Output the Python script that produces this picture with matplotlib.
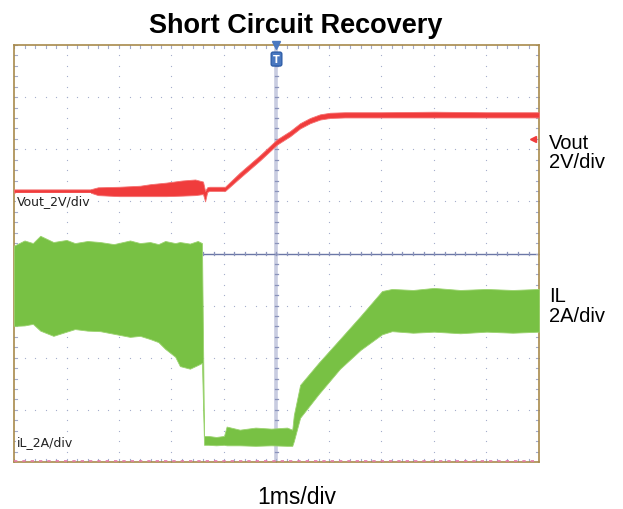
import matplotlib.pyplot as plt
import numpy as np

# scope screen in divisions: 10 div wide (1 ms/div), 8 div tall
vout_x = [0, 1.45, 1.6, 2.0, 2.4, 2.6, 2.9, 3.2, 3.45, 3.6, 3.64, 3.68, 3.72, 4.02,
          4.3, 4.69, 5.01, 5.26, 5.45, 5.64, 5.83, 6.02, 6.3, 7.0, 8.0, 9.0, 10]
vout_hi = [5.23, 5.23, 5.27, 5.28, 5.30, 5.33, 5.36, 5.40, 5.42, 5.38, 5.20, 5.27, 5.28, 5.28,
           5.55, 5.89, 6.19, 6.35, 6.50, 6.60, 6.67, 6.70, 6.71, 6.71, 6.72, 6.71, 6.71]
vout_lo = [5.17, 5.17, 5.12, 5.10, 5.10, 5.10, 5.10, 5.11, 5.12, 5.14, 5.00, 5.18, 5.20, 5.20,
           5.45, 5.79, 6.09, 6.25, 6.40, 6.50, 6.57, 6.60, 6.61, 6.61, 6.61, 6.61, 6.61]

il_x = [0, 0.2, 0.36, 0.5, 0.75, 1.0, 1.16, 1.4, 1.64, 1.9, 2.21, 2.4, 2.59, 2.75, 2.88,
        3.07, 3.16, 3.35, 3.5, 3.58, 3.62, 3.7, 3.85, 4.0, 4.05, 4.3, 4.6, 4.9, 5.2, 5.3,
        5.33, 5.45, 5.8, 6.21, 6.6, 7.01, 7.2, 7.6, 8.0, 8.5, 9.0, 9.5, 10]
il_hi = [4.15, 4.25, 4.20, 4.34, 4.22, 4.26, 4.20, 4.24, 4.22, 4.18, 4.25, 4.20, 4.22, 4.18, 4.24,
         4.20, 4.22, 4.19, 4.24, 4.20, 0.50, 0.50, 0.48, 0.50, 0.68, 0.62, 0.66, 0.64, 0.66, 0.62,
         0.90, 1.48, 1.90, 2.36, 2.80, 3.28, 3.32, 3.30, 3.34, 3.30, 3.32, 3.30, 3.32]
il_lo = [2.61, 2.62, 2.65, 2.52, 2.42, 2.50, 2.55, 2.52, 2.51, 2.46, 2.40, 2.42, 2.36, 2.30, 2.17,
         2.02, 1.84, 1.79, 1.86, 1.90, 0.33, 0.33, 0.32, 0.33, 0.32, 0.32, 0.31, 0.32, 0.31, 0.31,
         0.40, 0.85, 1.30, 1.79, 2.15, 2.45, 2.51, 2.48, 2.50, 2.47, 2.50, 2.48, 2.50]

n_xdiv = 10
n_ydiv = 8

fig = plt.figure(figsize=(6.23, 5.10), dpi=100)
ax = fig.add_axes([14 / 623, 47 / 510, 525 / 623, 417 / 510])
ax.set_xlim(0, n_xdiv)
ax.set_ylim(0, n_ydiv)
ax.set_xticks([])
ax.set_yticks([])
for s in ax.spines.values():
    s.set_color('#a88a4c')
    s.set_linewidth(1.2)

# dotted graticule
grid_c = '#a3abcb'
sub = np.arange(0, n_xdiv + 0.01, 0.2)
subv = np.arange(0, n_ydiv + 0.01, 0.2)
for gx in range(1, n_xdiv):
    ax.scatter(np.full_like(subv, gx), subv, s=0.8, color=grid_c, lw=0, zorder=1)
for gy in range(1, n_ydiv):
    ax.scatter(sub, np.full_like(sub, gy), s=0.8, color=grid_c, lw=0, zorder=1)

# center cross lines and minor ticks
ax.axvline(5, color='#c8cce0', lw=2.6, zorder=1)
ax.axhline(4, color='#6b77a6', lw=1.0, zorder=1)
for t in sub:
    ax.plot([t, t], [3.97, 4.03], color='#8a93bb', lw=0.9, zorder=1)
    ax.plot([t, t], [0, 0.05], color=grid_c, lw=0.8, zorder=1)
    ax.plot([t, t], [7.95, 8], color=grid_c, lw=0.8, zorder=1)
for t in subv:
    ax.plot([4.97, 5.03], [t, t], color='#8a93bb', lw=0.9, zorder=1)
    ax.plot([0, 0.05], [t, t], color=grid_c, lw=0.8, zorder=1)
    ax.plot([9.95, 10], [t, t], color=grid_c, lw=0.8, zorder=1)

# traces
ax.fill_between(il_x, il_lo, il_hi, color='#78c144', lw=0.6, edgecolor='#9bd36f', zorder=3)
ax.fill_between(vout_x, vout_lo, vout_hi, color='#f03c3c', lw=0.6, edgecolor='#f57070', zorder=4)

# bottom channel markers
ax.plot([0, 10], [0.01, 0.01], color='#e47aa6', lw=1.2, ls=(0, (2, 3)), zorder=5, clip_on=False)

# channel labels on screen
ax.text(0.05, 5.02, 'Vout_2V/div', fontsize=9, va='center', ha='left', color='#222222',
        bbox=dict(fc='white', ec='none', pad=0.5), zorder=6)
ax.text(0.05, 0.40, 'iL_2A/div', fontsize=9, va='center', ha='left', color='#222222',
        bbox=dict(fc='white', ec='none', pad=0.5), zorder=6)

# reference marker and trigger marker
ax.plot([9.89], [6.2], marker='<', color='#f03c3c', ms=4, clip_on=False, zorder=6)
ax.plot([5], [8.0], marker='v', color='#4a78c0', ms=6, clip_on=False, zorder=7)
ax.text(5, 7.73, 'T', fontsize=7, fontweight='bold', color='white', ha='center', va='center',
        bbox=dict(boxstyle='round,pad=0.2', fc='#4a78c0', ec='#2f5ea8'), zorder=7)

fig.text(296 / 623, 1 - 33 / 510, 'Short Circuit Recovery', fontsize=19.5, fontweight='bold',
         family='Liberation Sans', ha='center', va='baseline')
fig.text(549 / 623, 1 - 149 / 510, 'Vout', fontsize=14.5, family='Liberation Sans', va='baseline')
fig.text(549 / 623, 1 - 168 / 510, '2V/div', fontsize=14.5, family='Liberation Sans', va='baseline')
fig.text(549 / 623, 1 - 302 / 510, 'IL', fontsize=14.5, family='Liberation Sans', va='baseline')
fig.text(549 / 623, 1 - 322 / 510, '2A/div', fontsize=14.5, family='Liberation Sans', va='baseline')
fig.text(297 / 623, 1 - 504 / 510, '1ms/div', fontsize=16.5, family='Liberation Sans',
         ha='center', va='baseline')

fig.savefig('out.png', dpi=100)
